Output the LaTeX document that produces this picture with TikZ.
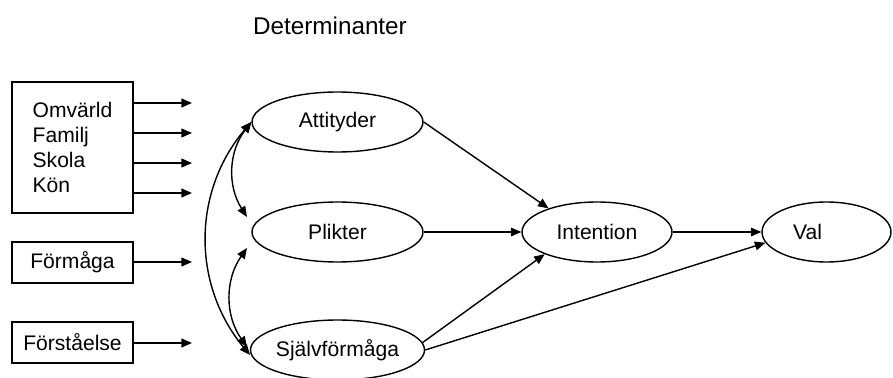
\documentclass[tikz,border=0pt]{standalone}
\usepackage{fontspec}
\setmainfont{Liberation Sans}
\usetikzlibrary{arrows.meta,shapes.geometric}

\begin{document}
\begin{tikzpicture}[x=0.02cm,y=-0.02cm,
		every node/.style={font=\fontsize{12}{14.2}\selectfont},
		faktor/.style={draw,line width=0.8pt,minimum width=2.42cm,inner sep=0pt},
		determ/.style={draw,ellipse,line width=0.8pt,minimum width=3.42cm,minimum height=1.2cm,inner sep=0pt},
		pil/.style={line width=0.8pt,-{Triangle[length=6pt,width=5pt]}},
		dubbelpil/.style={line width=0.8pt,{Triangle[length=6pt,width=5pt]}-{Triangle[length=6pt,width=5pt]}}]
		\useasboundingbox (0,0) rectangle (893,378);

		\node[font=\fontsize{13.8}{16}\selectfont] (titel) at (330,26) {Determinanter};

		\node[faktor,minimum height=2.62cm,align=left] (miljo) at (72.5,147.5) {Omvärld\\Familj\\Skola\\Kön};
		\node[faktor,minimum height=0.82cm] (formaga) at (72.5,262.5) {Förmåga};
		\node[faktor,minimum height=0.82cm] (forstaelse) at (72.5,342.5) {Förståelse};

		\node[determ] (att) at (337.5,122) {Attityder};
		\node[determ] (pli) at (337.5,232) {Plikter};
		\node[determ] (sjf) at (337.5,350) {Självförmåga};
		\node[determ,minimum width=3cm] (int) at (597,232) {Intention};
		\node[determ,minimum width=2.58cm] (val) at (826.5,232) {Val\kern0.76cm};

		\coordinate (m1) at (192,103);
		\coordinate (m2) at (192,133);
		\coordinate (m3) at (192,163);
		\coordinate (m4) at (192,193);
		\coordinate (f1) at (192,262);
		\coordinate (f2) at (192,343);
		\coordinate (plo) at (247,217);
		\coordinate (plu) at (247,248);
		\coordinate (sjo) at (247,347);
		\coordinate (sju) at (250,355);

		\draw[pil] (miljo.east |- m1) -- (m1);
		\draw[pil] (miljo.east |- m2) -- (m2);
		\draw[pil] (miljo.east |- m3) -- (m3);
		\draw[pil] (miljo.east |- m4) -- (m4);
		\draw[pil] (formaga.east |- f1) -- (f1);
		\draw[pil] (forstaelse.east |- f2) -- (f2);

		\draw[dubbelpil] (att.west) to[bend right=35] (plo);
		\draw[dubbelpil] (plu) to[bend right=35] (sjo);
		\draw[dubbelpil] (att.west) to[bend right=40] (sju);

		\draw[pil] (att.east) -- (int.154);
		\draw[pil] (pli.east) -- (int.west);
		\draw[pil] (sjf.5) -- (int.203);
		\draw[pil] (int.east) -- (val.west);
		\draw[pil] (sjf.east) -- (val.190);

\end{tikzpicture}
\end{document}
